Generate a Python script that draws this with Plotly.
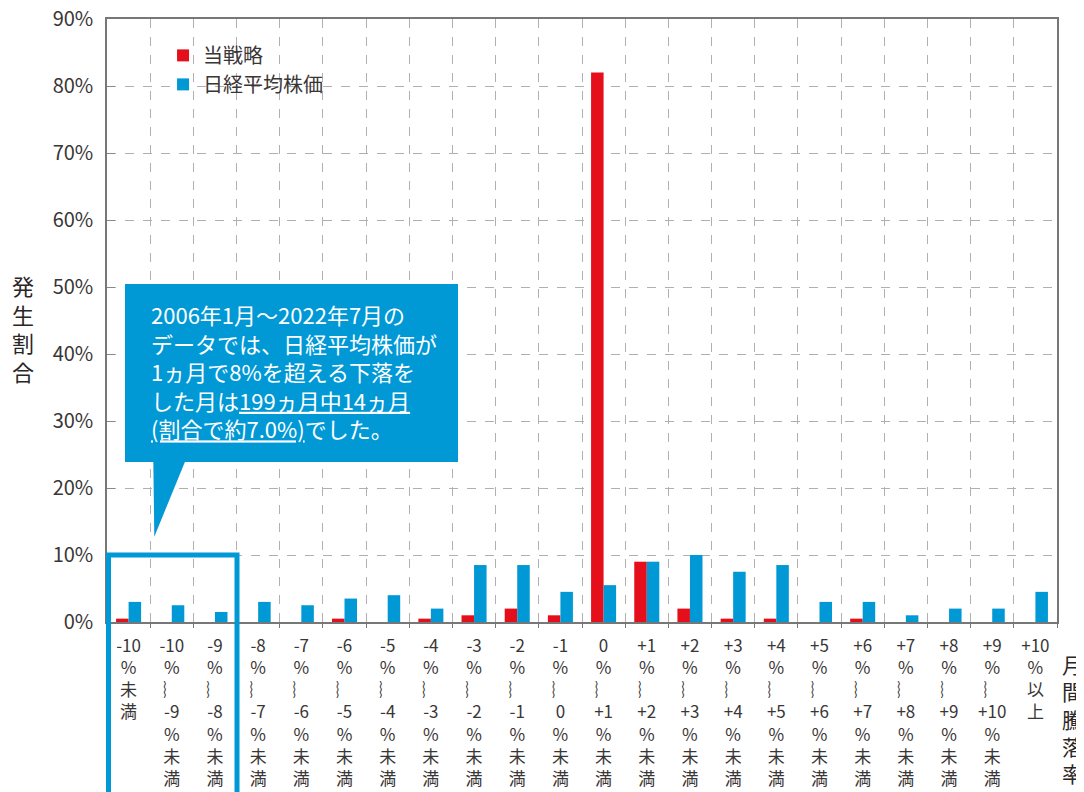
import plotly.graph_objects as go

# ---- data ----
categories = [
    "-10%未満", "-10%～-9%未満", "-9%～-8%未満", "-8%～-7%未満", "-7%～-6%未満",
    "-6%～-5%未満", "-5%～-4%未満", "-4%～-3%未満", "-3%～-2%未満", "-2%～-1%未満",
    "-1%～0%未満", "0%～+1%未満", "+1%～+2%未満", "+2%～+3%未満", "+3%～+4%未満",
    "+4%～+5%未満", "+5%～+6%未満", "+6%～+7%未満", "+7%～+8%未満", "+8%～+9%未満",
    "+9%～+10%未満", "+10%以上",
]
W = "︴"
tick_lines = [
    ["-10", "%", "未", "満"],
    ["-10", "%", W, "-9", "%", "未", "満"],
    ["-9", "%", W, "-8", "%", "未", "満"],
    ["-8", "%", W, "-7", "%", "未", "満"],
    ["-7", "%", W, "-6", "%", "未", "満"],
    ["-6", "%", W, "-5", "%", "未", "満"],
    ["-5", "%", W, "-4", "%", "未", "満"],
    ["-4", "%", W, "-3", "%", "未", "満"],
    ["-3", "%", W, "-2", "%", "未", "満"],
    ["-2", "%", W, "-1", "%", "未", "満"],
    ["-1", "%", W, "0", "%", "未", "満"],
    ["0", "%", W, "+1", "%", "未", "満"],
    ["+1", "%", W, "+2", "%", "未", "満"],
    ["+2", "%", W, "+3", "%", "未", "満"],
    ["+3", "%", W, "+4", "%", "未", "満"],
    ["+4", "%", W, "+5", "%", "未", "満"],
    ["+5", "%", W, "+6", "%", "未", "満"],
    ["+6", "%", W, "+7", "%", "未", "満"],
    ["+7", "%", W, "+8", "%", "未", "満"],
    ["+8", "%", W, "+9", "%", "未", "満"],
    ["+9", "%", W, "+10", "%", "未", "満"],
    ["+10", "%", "以", "上"],
]
strategy = [0.5, 0, 0, 0, 0, 0.5, 0, 0.5, 1.0, 2.0, 1.0,
            82.0, 9.0, 2.0, 0.5, 0.5, 0, 0.5, 0, 0, 0, 0]
nikkei = [3.0, 2.5, 1.5, 3.0, 2.5, 3.5, 4.0, 2.0, 8.5, 8.5, 4.5,
          5.5, 9.0, 10.0, 7.5, 8.5, 3.0, 3.0, 1.0, 2.0, 2.0, 4.5]
y_ticks = [0, 10, 20, 30, 40, 50, 60, 70, 80, 90]
y_tick_text = [f"{v}%" for v in y_ticks]

RED = "#E50F1B"
BLUE = "#0099D6"
TXT = "#3a3636"
FONT = "Noto Sans CJK JP"

# page offset (browser body margin) and target plot-area pixels in the screenshot
OFF = 8
PL, PR, PT, PB = 107, 1057, 19, 622
FW, FH = 1084, 792

fig = go.Figure()
fig.add_trace(go.Bar(name="当戦略", x=categories, y=strategy, marker_color=RED,
                     marker_line_width=0))
fig.add_trace(go.Bar(name="日経平均株価", x=categories, y=nikkei, marker_color=BLUE,
                     marker_line_width=0))

fig.update_layout(
    width=FW, height=FH,
    margin=dict(l=PL - OFF, r=FW - (PR - OFF), t=PT - OFF, b=FH - (PB - OFF),
                autoexpand=False),
    paper_bgcolor="white", plot_bgcolor="white",
    barmode="group", bargap=0.42, bargroupgap=0,
    font=dict(family=FONT, color=TXT),
    showlegend=True,
    legend=dict(x=0.059, y=0.972, xanchor="left", yanchor="top",
                bgcolor="rgba(0,0,0,0)", font=dict(size=20, color=TXT, family=FONT),
                itemwidth=30, tracegroupgap=0),
)

fig.update_xaxes(
    type="category", automargin=False,
    tickmode="array", tickvals=categories,
    ticktext=["<br>".join(t) for t in tick_lines],
    tickangle=0,
    tickfont=dict(size=17, color=TXT, family=FONT),
    tickson="boundaries", ticks="outside", ticklen=4, tickcolor="#777",
    ticklabelstandoff=8, ticklabeloverflow="allow",
    showgrid=True, gridcolor="#b0b0b0", griddash="dash", gridwidth=1,
    showline=True, linecolor="#777", linewidth=1.5, mirror=True,
)
fig.update_yaxes(
    range=[0, 90], automargin=False,
    tickmode="array", tickvals=y_ticks, ticktext=y_tick_text,
    tickfont=dict(size=20, color=TXT, family=FONT),
    ticks="inside", ticklen=8, tickcolor="#888",
    ticklabelstandoff=8, ticklabeloverflow="allow",
    showgrid=True, gridcolor="#b0b0b0", griddash="dash", gridwidth=1,
    showline=True, linecolor="#777", linewidth=1.5, mirror=True,
    zeroline=False,
)

# screenshot pixel -> paper helpers for decorations
def px(x):
    return (x - PL) / (PR - PL)
def py(y):
    return (PB - y) / (PB - PT)

shapes = [
    # highlight outline around the first three categories
    dict(type="rect", xref="paper", yref="paper",
         x0=px(108.5), x1=px(237), y0=py(555), y1=py(830),
         line=dict(color=BLUE, width=5), fillcolor="rgba(0,0,0,0)", layer="above"),
    # callout box
    dict(type="rect", xref="paper", yref="paper",
         x0=px(125), x1=px(458), y0=py(284), y1=py(462),
         line=dict(width=0), fillcolor=BLUE, layer="above"),
    # callout tail
    dict(type="path", xref="paper", yref="paper",
         path=f"M{px(153.3)},{py(460)} L{px(185.7)},{py(460)} L{px(154.3)},{py(536.7)} Z",
         line=dict(width=0), fillcolor=BLUE, layer="above"),
]
fig.update_layout(shapes=shapes)

callout_text = ("2006年1月～2022年7月の<br>"
                "データでは、日経平均株価が<br>"
                "1ヵ月で8%を超える下落を<br>"
                "した月は<u>199ヵ月中14ヵ月</u><br>"
                "<u>(割合で約7.0%)</u>でした。")

fig.add_annotation(xref="paper", yref="paper", x=px(149), y=py(371),
                   xanchor="left", yanchor="middle", align="left",
                   text=callout_text, showarrow=False,
                   font=dict(size=22, color="white", family=FONT))
fig.add_annotation(xref="paper", yref="paper", x=px(23), y=py(328),
                   xanchor="center", yanchor="middle",
                   text="発<br>生<br>割<br>合", showarrow=False,
                   font=dict(size=22, color="#2a2626", family=FONT))
fig.add_annotation(xref="paper", yref="paper", x=px(1072), y=py(718),
                   xanchor="center", yanchor="middle",
                   text="月<br>間<br>騰<br>落<br>率", showarrow=False,
                   font=dict(size=21, color="#2a2626", family=FONT))

fig.write_html("out.html")
